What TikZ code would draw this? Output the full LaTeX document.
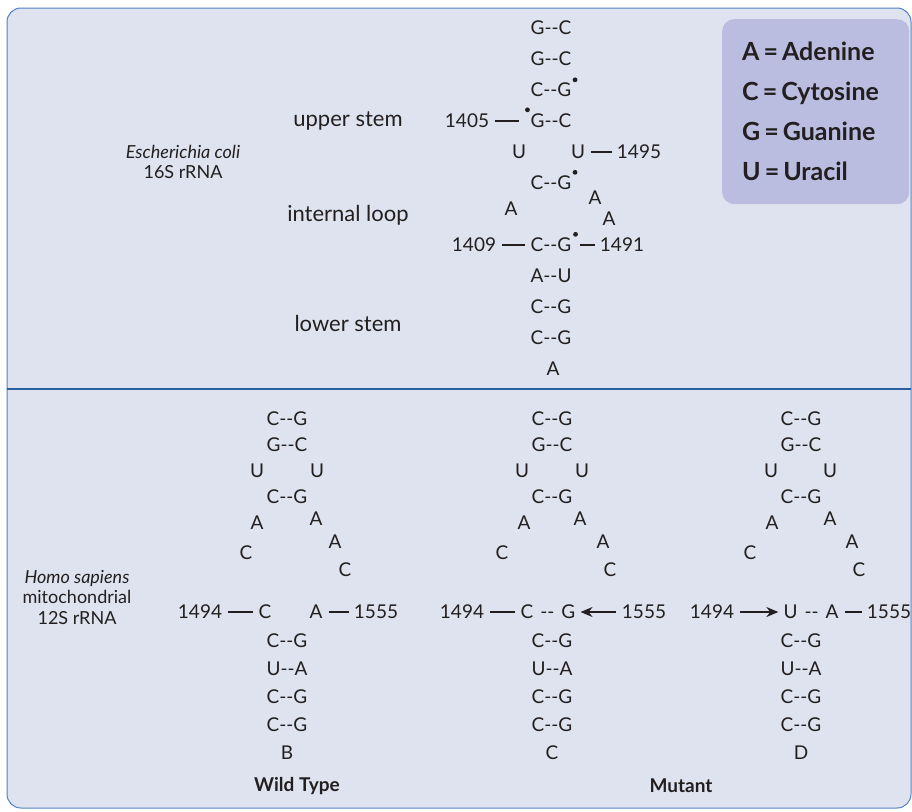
\documentclass[tikz,border=0pt]{standalone}
\usepackage{fontspec}
\setmainfont{Lato}
\usetikzlibrary{arrows.meta,positioning,calc}
\definecolor{panel}{RGB}{222,227,239}
\definecolor{rim}{RGB}{80,130,190}
\definecolor{rule1}{RGB}{40,95,160}
\definecolor{key1}{RGB}{186,189,224}
\definecolor{ink}{RGB}{35,31,32}
\newcommand{\nt}{\fontsize{19}{21}\selectfont}
\newcommand{\lab}{\fontsize{22}{24}\selectfont}
\newcommand{\org}{\fontsize{18}{20.5}\selectfont}

\begin{document}
\begin{tikzpicture}[x=1pt, y=-1pt, node distance=28pt, font=\nt, text=ink,
    nt/.style={inner sep=0pt},
    lab/.style={inner sep=0pt, font=\lab},
    org/.style={inner sep=0pt, font=\org, align=center},
    bond/.style={draw=ink, line width=1.4pt, shorten <=6pt, shorten >=5pt},
    push/.style={bond, -{Stealth[length=12pt,width=10pt]}},
    wob/.style={fill=ink},
    keybox/.style={fill=key1, rounded corners=12pt, inner xsep=20pt, text width=147pt,
        minimum height=185pt, align=left, font=\bfseries\fontsize{25}{40}\selectfont}]
    \useasboundingbox (0,0) rectangle (912,811);
    \fill[white] (0,0) rectangle (912,811);
    \draw[draw=rim, fill=panel, line width=1pt, rounded corners=14pt] (7,8) rectangle (911,808);
    \draw[rule1, line width=1.3pt] (7,389) -- (911,389);

    % key
    \node[keybox, anchor=north west] (key) at (722,19)
        {A\kern4pt=\kern4pt Adenine\\C\kern4pt=\kern4pt Cytosine\\G\kern4pt=\kern4pt Guanine\\U\kern4pt=\kern4pt Uracil};

    % E. coli 16S
    \node[org] (ecoli) at (183,162) {\textit{Escherichia coli}\\16S rRNA};
    \node[lab] (upper) at (348,121) {upper stem};
    \node[lab] (loop) at (348,215) {internal loop};
    \node[lab] (lower) at (348,323) {lower stem};

    \node[nt] (u1) at (551,28) {G-{}-C};
    \node[nt, below of=u1, node distance=31pt] (u2) {G-{}-C};
    \node[nt, below of=u2, node distance=31pt] (u3) {C-{}-G};
    \node[nt, below of=u3, node distance=31pt] (u4) {G-{}-C};
    \node[nt] (u5l) at (519,152) {U};
    \node[nt] (u5r) at (578,152) {U};
    \node[nt, below of=u4, node distance=62pt] (u6) {C-{}-G};
    \node[nt] (u7l) at (511,209) {A};
    \node[nt] (u7r) at (595,198) {A};
    \node[nt] (u7s) at (609,219) {A};
    \node[nt, below of=u6, node distance=62pt] (u8) {C-{}-G};
    \node[nt, below of=u8, node distance=31pt] (u9) {A-{}-U};
    \node[nt, below of=u9, node distance=31pt] (u10) {C-{}-G};
    \node[nt, below of=u10, node distance=31pt] (u11) {C-{}-G};
    \node[nt, below of=u11, node distance=31pt, xshift=2pt] (u12) {A};
    \node[nt] (n1405) at (467,121) {1405};
    \node[nt] (n1495) at (639,152) {1495};
    \node[nt] (n1409) at (474,245) {1409};
    \node[nt] (n1491) at (622,245) {1491};

    \draw[bond, shorten >=11pt] (n1405) -- (u4);
    \draw[bond] (u5r) -- (n1495);
    \draw[bond] (n1409) -- (u8);
    \draw[bond, shorten <=8pt] (u8) -- (n1491);
    \fill[wob] ([shift={(-3,-4)}]u4.north west) circle (2.4pt);
    \fill[wob] ([shift={(3.5,-3)}]u3.north east) circle (2.4pt);
    \fill[wob] ([shift={(3.5,-3.5)}]u6.north east) circle (2.4pt);
    \fill[wob] ([shift={(4,-3.5)}]u8.north east) circle (2.4pt);

    % H. sapiens 12S
    \node[org] (homo) at (77,597) {\textit{Homo sapiens}\\mitochondrial\\12S rRNA};

    % wild type
    \node[nt] (w1) at (287,419) {C-{}-G};
    \node[nt, below of=w1, node distance=26pt] (w2) {G-{}-C};
    \node[nt] (w3l) at (257,471) {U};
    \node[nt] (w3r) at (317,471) {U};
    \node[nt, below of=w2, node distance=52pt] (w4) {C-{}-G};
    \node[nt] (w5l) at (257,523) {A};
    \node[nt] (w5r) at (316,519) {A};
    \node[nt] (w6r) at (335,542) {A};
    \node[nt] (w7l) at (246,553) {C};
    \node[nt] (w7r) at (345,570) {C};
    \node[nt] (w1494) at (200,612) {1494};
    \node[nt] (w8l) at (265,612) {C};
    \node[nt] (w8r) at (316,612) {A};
    \node[nt] (w1555) at (376,612) {1555};
    \node[nt] (w9) at (287,641) {C-{}-G};
    \node[nt, below of=w9] (w10) {U-{}-A};
    \node[nt, below of=w10] (w11) {C-{}-G};
    \node[nt, below of=w11] (w12) {C-{}-G};
    \node[nt, below of=w12] (w13) {B};
    \draw[bond] (w1494) -- (w8l);
    \draw[bond] (w8r) -- (w1555);

    % mutant C
    \node[nt] (c1) at (552,419) {C-{}-G};
    \node[nt, below of=c1, node distance=26pt] (c2) {G-{}-C};
    \node[nt] (c3l) at (522,471) {U};
    \node[nt] (c3r) at (582,471) {U};
    \node[nt, below of=c2, node distance=52pt] (c4) {C-{}-G};
    \node[nt] (c5l) at (524,523) {A};
    \node[nt] (c5r) at (580,519) {A};
    \node[nt] (c6r) at (603,542) {A};
    \node[nt] (c7l) at (502,553) {C};
    \node[nt] (c7r) at (610,570) {C};
    \node[nt] (c1494) at (462,612) {1494};
    \node[nt] (c8) at (548,612) {C\hspace{7pt}-{}-\hspace{7pt}G};
    \node[nt] (c1555) at (644,612) {1555};
    \node[nt] (c9) at (552,641) {C-{}-G};
    \node[nt, below of=c9] (c10) {U-{}-A};
    \node[nt, below of=c10] (c11) {C-{}-G};
    \node[nt, below of=c11] (c12) {C-{}-G};
    \node[nt, below of=c12] (c13) {C};
    \draw[bond] (c1494) -- (c8);
    \draw[push] (c1555) -- (c8);

    % mutant D
    \node[nt] (d1) at (801,419) {C-{}-G};
    \node[nt, below of=d1, node distance=26pt] (d2) {G-{}-C};
    \node[nt] (d3l) at (771,471) {U};
    \node[nt] (d3r) at (830,471) {U};
    \node[nt, below of=d2, node distance=52pt] (d4) {C-{}-G};
    \node[nt] (d5l) at (772,523) {A};
    \node[nt] (d5r) at (830,519) {A};
    \node[nt] (d6r) at (852,542) {A};
    \node[nt] (d7l) at (750,553) {C};
    \node[nt] (d7r) at (859,570) {C};
    \node[nt] (d1494) at (712,612) {1494};
    \node[nt] (d8) at (811,612) {U\hspace{7pt}-{}-\hspace{7pt}A};
    \node[nt] (d1555) at (889,612) {1555};
    \node[nt] (d9) at (801,641) {C-{}-G};
    \node[nt, below of=d9] (d10) {U-{}-A};
    \node[nt, below of=d10] (d11) {C-{}-G};
    \node[nt, below of=d11] (d12) {C-{}-G};
    \node[nt, below of=d12] (d13) {D};
    \draw[push] (d1494) -- (d8);
    \draw[bond] (d8) -- (d1555);

    \node[nt, font=\bfseries\nt] (wild) at (297,786) {Wild Type};
    \node[nt, font=\bfseries\nt] (mutant) at (681,786) {Mutant};
\end{tikzpicture}
\end{document}
